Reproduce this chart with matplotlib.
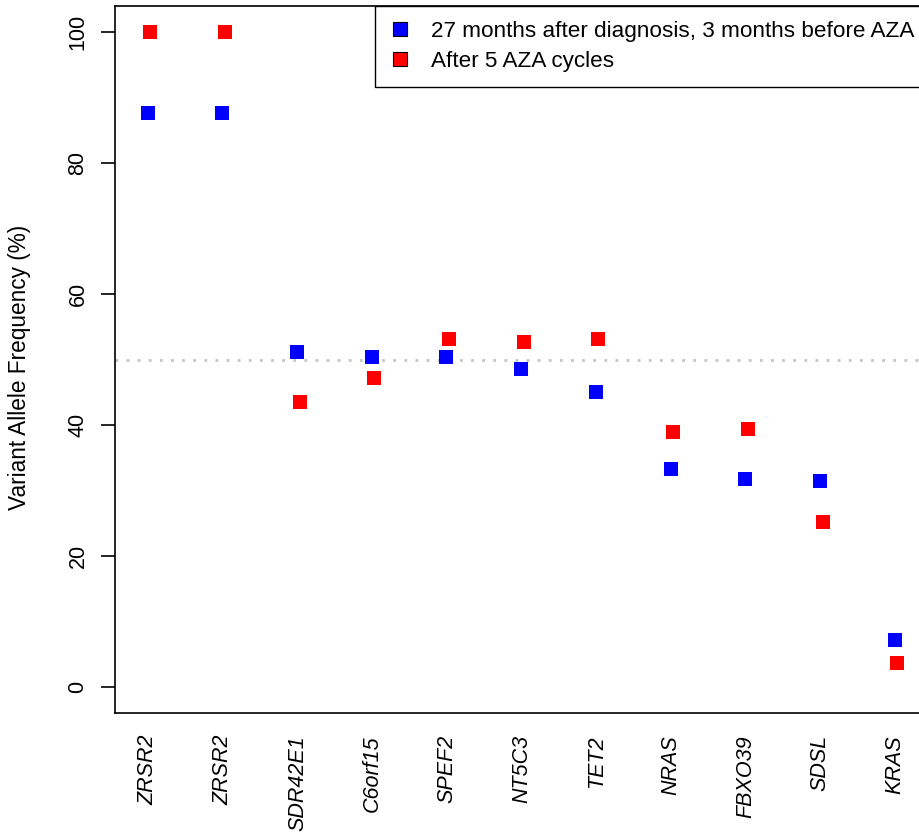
import matplotlib
matplotlib.use("Agg")
import matplotlib.pyplot as plt
from matplotlib.lines import Line2D

plt.rcParams['font.family'] = ['Liberation Sans', 'DejaVu Sans']

genes = ["ZRSR2", "ZRSR2", "SDR42E1", "C6orf15", "SPEF2", "NT5C3",
         "TET2", "NRAS", "FBXO39", "SDSL", "KRAS"]
vaf_before = [87.7, 87.6, 51.1, 50.4, 50.4, 48.6, 45.1, 33.3, 31.7, 31.5, 7.1]
vaf_after = [100.0, 100.0, 43.5, 47.2, 53.2, 52.7, 53.1, 38.9, 39.4, 25.1, 3.6]
series_labels = ["27 months after diagnosis, 3 months before AZA",
                 "After 5 AZA cycles"]

W, H = 920, 836
fig = plt.figure(figsize=(W / 100, H / 100), dpi=100)

# plot box: left/bottom/top in pixels, right side runs past the edge
left, top, bottom = 115, 5.7, 712.7
px_per_x = 74.7
xlo, xhi = 0.558, 11.5
width = (xhi - xlo) * px_per_x
ax = fig.add_axes([left / W, (H - bottom) / H, width / W, (bottom - top) / H])

x = list(range(1, len(genes) + 1))
ax.axhline(50, color="#c4c4c4", lw=2, dashes=(1, 3), zorder=1)
ax.plot([i - 0.005 for i in x], vaf_before, ls="none", marker="s", ms=9.6,
        mew=0, color="#0000ff", zorder=3)
ax.plot([i + 0.03 for i in x], vaf_after, ls="none", marker="s", ms=9.6,
        mew=0, color="#ff0000", zorder=3)

ax.set_xlim(xlo, xhi)
ax.set_ylim(-3.97, 104.07)
ax.set_xticks(x)
ax.set_xticklabels(genes, rotation=90, style="italic", fontsize=15.5,
                   va="top", ha="center")
ax.tick_params(axis="x", length=0, pad=16)
ax.set_yticks([0, 20, 40, 60, 80, 100])
ax.set_yticklabels(["0", "20", "40", "60", "80", "100"], rotation=90,
                   va="center", fontsize=15.5)
ax.tick_params(axis="y", length=10, width=1.2, pad=9)
for s in ax.spines.values():
    s.set_linewidth(1.2)

fig.text(20 / W, 1 - 367 / H, "Variant Allele Frequency (%)",
         rotation=90, ha="center", va="center", fontsize=16.3)

handles = [Line2D([], [], ls="none", marker="s", ms=10, mfc=c, mec="black",
                  mew=0.8) for c in ("#0000ff", "#ff0000")]
leg = fig.legend(handles, series_labels, loc="upper left",
                 bbox_to_anchor=(375 / W, 1 - top / H), borderaxespad=0,
                 fontsize=16.2, frameon=True, fancybox=False, framealpha=1,
                 edgecolor="black", handlelength=0.9, handletextpad=0.9,
                 labelspacing=0.4, borderpad=0.68)
leg.get_frame().set_linewidth(1.0)

fig.savefig("out.png", dpi=100)
